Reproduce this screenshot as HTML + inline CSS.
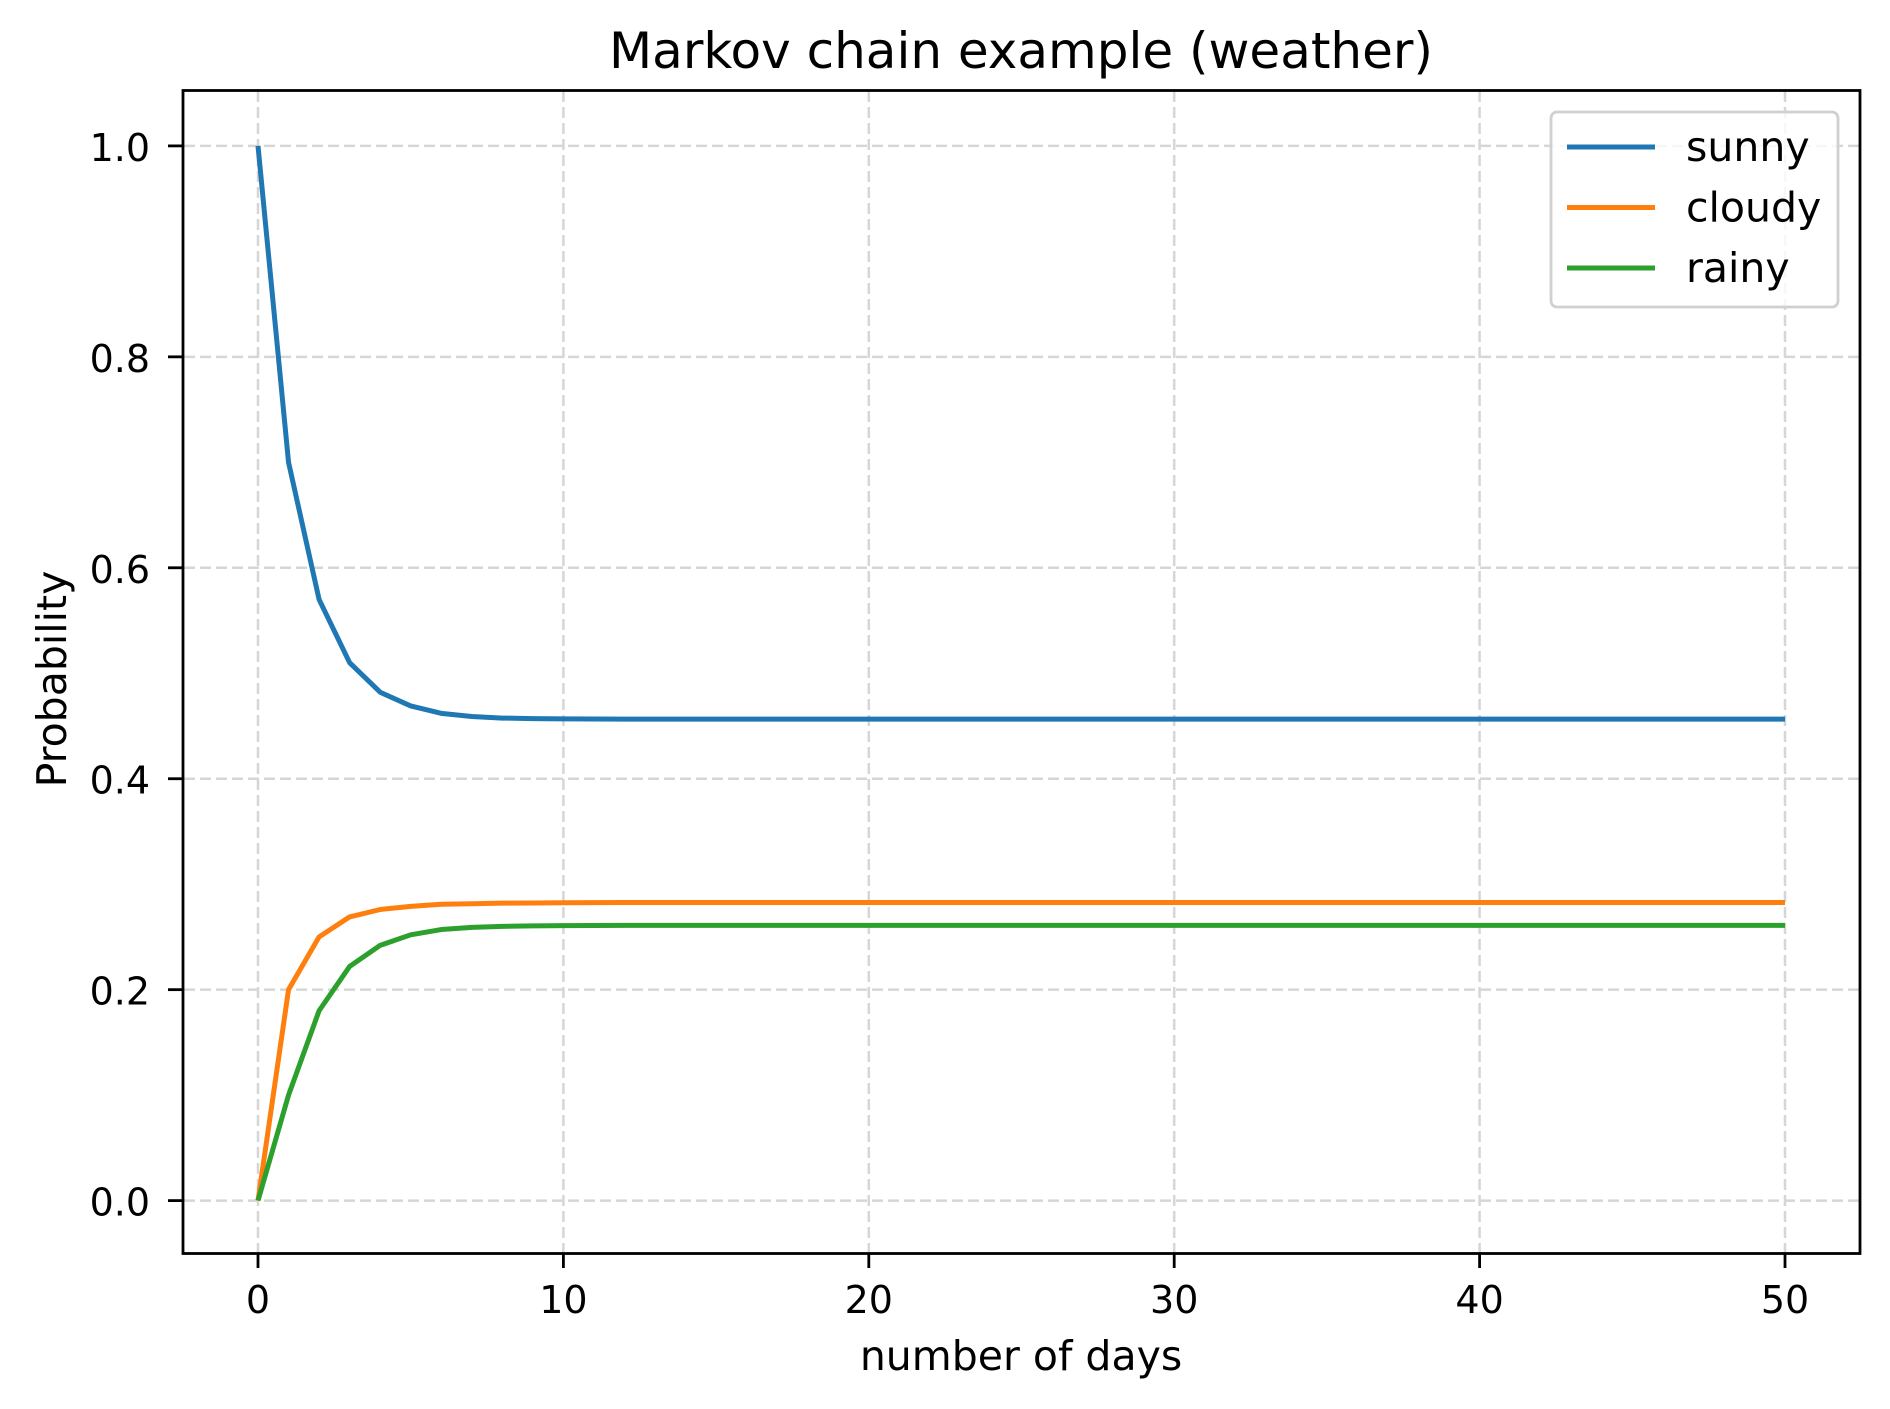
<!DOCTYPE html>
<html><head><meta charset="utf-8"><style>
html,body{margin:0;padding:0;background:#fff;}
svg{display:block;font-family:"DejaVu Sans","Liberation Sans",sans-serif;}
</style></head><body>
<svg id="chart" width="1890" height="1409" viewBox="0 0 1890 1409" xmlns="http://www.w3.org/2000/svg">
<rect x="0" y="0" width="1890" height="1409" fill="#fff"/>
<text x="1021" y="68" font-size="50" text-anchor="middle" fill="#000">Markov chain example (weather)</text>
<g id="grid"></g>
<g id="series"></g>
<rect x="183" y="90.5" width="1677" height="1163" fill="none" stroke="#000" stroke-width="2.8"/>
<g id="axes"></g>
<text x="1021" y="1370" font-size="41" text-anchor="middle" fill="#000">number of days</text>
<text x="0" y="0" font-size="41" text-anchor="middle" fill="#000" transform="translate(66,679) rotate(-90)">Probability</text>
<g id="legend"></g>
</svg>
<script>
const days = [0,1,2,3,4,5,6,7,8,9,10,11,12,13,14,15,16,17,18,19,20,21,22,23,24,25,26,27,28,29,30,31,32,33,34,35,36,37,38,39,40,41,42,43,44,45,46,47,48,49,50];
const sunny = [1.0,0.70,0.57,0.51,0.482,0.469,0.462,0.459,0.4575,0.457,0.4567,0.4566,0.4565,0.4565,0.4565,0.4565,0.4565,0.4565,0.4565,0.4565,0.4565,0.4565,0.4565,0.4565,0.4565,0.4565,0.4565,0.4565,0.4565,0.4565,0.4565,0.4565,0.4565,0.4565,0.4565,0.4565,0.4565,0.4565,0.4565,0.4565,0.4565,0.4565,0.4565,0.4565,0.4565,0.4565,0.4565,0.4565,0.4565,0.4565,0.4565];
const cloudy = [0.0,0.20,0.25,0.269,0.276,0.279,0.281,0.2815,0.282,0.2822,0.2824,0.2825,0.2826,0.2826,0.2826,0.2826,0.2826,0.2826,0.2826,0.2826,0.2826,0.2826,0.2826,0.2826,0.2826,0.2826,0.2826,0.2826,0.2826,0.2826,0.2826,0.2826,0.2826,0.2826,0.2826,0.2826,0.2826,0.2826,0.2826,0.2826,0.2826,0.2826,0.2826,0.2826,0.2826,0.2826,0.2826,0.2826,0.2826,0.2826,0.2826];
const rainy = [0.0,0.10,0.18,0.222,0.242,0.252,0.257,0.259,0.260,0.2605,0.2607,0.2608,0.2609,0.2609,0.2609,0.2609,0.2609,0.2609,0.2609,0.2609,0.2609,0.2609,0.2609,0.2609,0.2609,0.2609,0.2609,0.2609,0.2609,0.2609,0.2609,0.2609,0.2609,0.2609,0.2609,0.2609,0.2609,0.2609,0.2609,0.2609,0.2609,0.2609,0.2609,0.2609,0.2609,0.2609,0.2609,0.2609,0.2609,0.2609,0.2609];
const seriesNames = ["sunny","cloudy","rainy"];
const xTicks = [0,10,20,30,40,50];
const yTicks = [0.0,0.2,0.4,0.6,0.8,1.0];
const yTickLabels = ["0.0","0.2","0.4","0.6","0.8","1.0"];

const NS = "http://www.w3.org/2000/svg";
const X0 = 258, X1 = 1785, Y0 = 1200.6, Y1 = 145.9;
function xs(v){ return X0 + (v - 0) / 50 * (X1 - X0); }
function ys(v){ return Y0 + (v - 0) / 1.0 * (Y1 - Y0); }
function mk(tag, attrs, parent){ const e = document.createElementNS(NS, tag); for (const k in attrs) e.setAttribute(k, attrs[k]); parent.appendChild(e); return e; }

const grid = document.getElementById('grid');
const axes = document.getElementById('axes');
xTicks.forEach(t => {
  const g = mk('line', {x1: xs(t), x2: xs(t), y1: 91, y2: 1253, stroke: '#d6d6d6', 'stroke-width': 2.5, 'stroke-dasharray': '11,5'}, grid);
  
  
  const tk = mk('line', {x1: xs(t), x2: xs(t), y1: 1254, y2: 1268, stroke: '#000', 'stroke-width': 2.8}, axes);
  
  
  const tl = mk('text', {x: xs(t), y: 1313, 'font-size': 38, 'text-anchor': 'middle', fill: '#000'}, axes);
  tl.textContent = String(t);
  
  
});
yTicks.forEach((t, i) => {
  const g = mk('line', {x1: 184, x2: 1859, y1: ys(t), y2: ys(t), stroke: '#d6d6d6', 'stroke-width': 2.5, 'stroke-dasharray': '11,5'}, grid);
  
  
  const tk = mk('line', {x1: 168, x2: 183, y1: ys(t), y2: ys(t), stroke: '#000', 'stroke-width': 2.8}, axes);
  
  
  const tl = mk('text', {x: 150, y: ys(t) + 15, 'font-size': 38, 'text-anchor': 'end', fill: '#000'}, axes);
  tl.textContent = yTickLabels[i];
  
  
});

const colors = ["#1f77b4","#ff7f0e","#2ca02c"];
const data = [sunny, cloudy, rainy];
const seriesG = document.getElementById('series');
data.forEach((vals, si) => {
  const d = vals.map((v, i) => (i ? 'L' : 'M') + xs(days[i]).toFixed(2) + ',' + ys(v).toFixed(2)).join(' ');
  const p = mk('path', {d: d, fill: 'none', stroke: colors[si], 'stroke-width': 5, 'stroke-linejoin': 'round'}, seriesG);
  
  
});

const lg = document.getElementById('legend');
const box = mk('rect', {x: 1551, y: 112, width: 287, height: 195, rx: 6, fill: '#fff', 'fill-opacity': 0.8, stroke: '#d0d0d0', 'stroke-width': 2.8}, lg);


seriesNames.forEach((n, i) => {
  const y = 147 + i * 60.5;
  const l = mk('line', {x1: 1567, x2: 1655, y1: y, y2: y, stroke: colors[i], 'stroke-width': 5}, lg);
  
  
  const t = mk('text', {x: 1686, y: y + 14, 'font-size': 41, fill: '#000'}, lg);
  t.textContent = n;
  
  
});
</script>
</body></html>
